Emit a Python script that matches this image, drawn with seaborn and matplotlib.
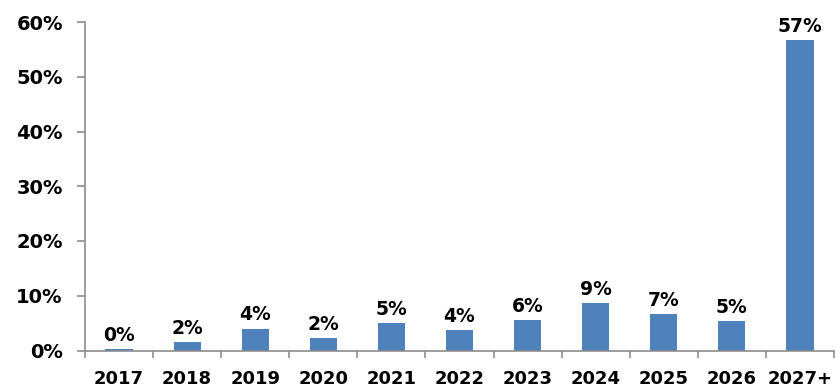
import matplotlib
matplotlib.use("Agg")
import matplotlib.pyplot as plt
import seaborn as sns
import pandas as pd
import numpy as np

# Share of maturities by year (percent)
years = ["2017", "2018", "2019", "2020", "2021", "2022", "2023", "2024", "2025", "2026", "2027+"]
shares = [0.2, 1.5, 4.0, 2.3, 5.0, 3.7, 5.6, 8.6, 6.7, 5.3, 56.7]
y_ticks = [0, 10, 20, 30, 40, 50, 60]

df = pd.DataFrame({"year": years, "share": shares})

sns.set_theme(style="white")
plt.rcParams["font.family"] = ["DejaVu Sans"]

fig = plt.figure(figsize=(8.37, 3.88), dpi=100)
ax = fig.add_axes([85 / 837, (388 - 350.5) / 388, (834 - 85) / 837, (350.5 - 22) / 388])

sns.barplot(data=df, x="year", y="share", color="#4F81BD", width=0.4,
            saturation=1, ax=ax, edgecolor="none")

for i, v in enumerate(shares):
    ax.annotate(f"{v:.0f}%", (i, v), xytext=(0, 3), textcoords="offset points",
                ha="center", va="bottom", fontsize=13.5, fontweight="bold",
                color="black", annotation_clip=False)

ax.set_xlim(-0.5, len(years) - 0.5)
ax.set_ylim(0, 60)
ax.set_yticks(y_ticks)
ax.set_yticklabels([f"{t}%" for t in y_ticks])
ax.set_xlabel("")
ax.set_ylabel("")

spine_color = "#8C8C8C"
for side in ["top", "right"]:
    ax.spines[side].set_visible(False)
for side in ["left", "bottom"]:
    ax.spines[side].set_color(spine_color)
    ax.spines[side].set_linewidth(1.2)

# Category separators as minor ticks on the x axis
ax.set_xticks(np.arange(-0.5, len(years)), minor=True)
ax.tick_params(axis="x", which="major", length=0, pad=14, labelsize=13)
ax.tick_params(axis="x", which="minor", length=5, width=1.2, color=spine_color, direction="out", bottom=True)
ax.tick_params(axis="y", which="major", length=6, width=1.2, color=spine_color, direction="out",
               left=True, pad=10, labelsize=14)
for lbl in ax.get_xticklabels() + ax.get_yticklabels():
    lbl.set_fontweight("bold")
    lbl.set_color("black")

fig.savefig("out.png", dpi=100)
